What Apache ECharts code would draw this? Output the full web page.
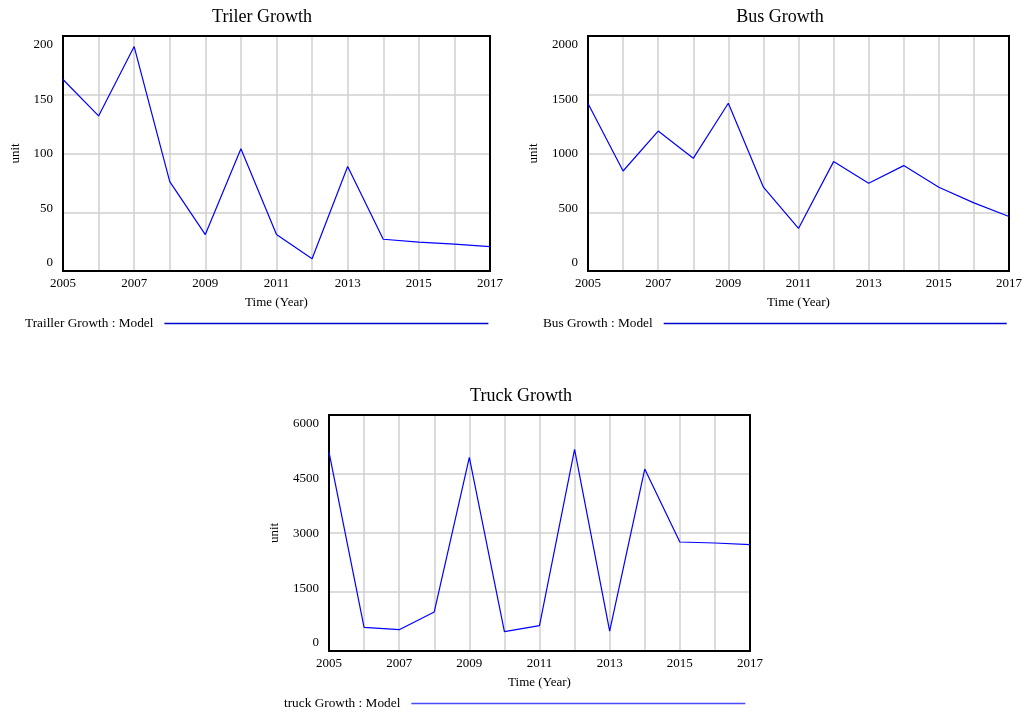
<!DOCTYPE html>
<html>
<head>
<meta charset="utf-8">
<script src="https://cdn.jsdelivr.net/npm/echarts@6/dist/echarts.min.js"></script>
<style>
  html, body { margin: 0; padding: 0; background: #fff; }
  #main { width: 1026px; height: 715px; }
</style>
</head>
<body>
<div id="main"></div>
<script>
const years = [2005, 2006, 2007, 2008, 2009, 2010, 2011, 2012, 2013, 2014, 2015, 2016, 2017]
const trailerGrowth = [163, 132, 191, 76, 31, 104, 31, 10.5, 89, 27, 24.6, 22.9, 20.7]
const busGrowth = [1426, 851, 1191, 959, 1428, 713, 362, 931, 747, 897, 713, 580, 464]
const truckGrowth = [5059, 602, 542, 992, 4924, 492, 644, 5127, 508, 4627, 2771, 2746, 2703]
const yTicksTrailer = [0, 50, 100, 150, 200]
const yTicksBus = [0, 500, 1000, 1500, 2000]
const yTicksTruck = [0, 1500, 3000, 4500, 6000]

const FONT = 'Liberation Serif'
const BLUE = '#0000ff'
const GRID_GRAY = '#cfcfcf'

// panels: title, legend name, data, y ticks, grid box
const panels = [
  { title: 'Triler Growth', name: 'Trailler Growth : Model', values: trailerGrowth, ticks: yTicksTrailer,
    grid: { left: 63, top: 36, width: 427, height: 235 }, titleX: 257, titleY: 3, unitGap: 41,
    legend: { left: 25, top: 317, width: 324, color: '#0000cc' } },
  { title: 'Bus Growth', name: 'Bus Growth : Model', values: busGrowth, ticks: yTicksBus,
    grid: { left: 588, top: 36, width: 421, height: 235 }, titleX: 775, titleY: 3, unitGap: 48,
    legend: { left: 543, top: 317, width: 343, color: '#0000cc' } },
  { title: 'Truck Growth', name: 'truck Growth : Model', values: truckGrowth, ticks: yTicksTruck,
    grid: { left: 329, top: 415, width: 421, height: 236 }, titleX: 516, titleY: 382, unitGap: 48,
    legend: { left: 284, top: 697, width: 334, color: '#4a4aff' } }
]

const option = {
  animation: false,
  textStyle: { fontFamily: FONT, color: '#000' },
  title: [], grid: [], xAxis: [], yAxis: [], series: [], legend: []
}

panels.forEach((p, i) => {
  const ymax = p.ticks[p.ticks.length - 1]
  const h = p.grid.height
  // the label axis spreads the tick labels a bit inside the frame, like the original tool
  const span = ymax * h / (h - 16.5)
  const lo = -8 * span / h

  option.title.push({
    text: p.title, left: p.titleX, top: p.titleY, textAlign: 'center',
    textStyle: { fontFamily: FONT, fontSize: 18, fontWeight: 'normal', color: '#000' }
  })
  option.grid.push(Object.assign({ show: true, borderColor: '#000', borderWidth: 2, backgroundColor: 'transparent', z: 3 }, p.grid))
  option.xAxis.push({
    type: 'value', gridIndex: i, min: 2005, max: 2017, interval: 1,
    name: 'Time (Year)', nameLocation: 'middle', nameGap: 25,
    nameTextStyle: { fontFamily: FONT, fontSize: 13, color: '#000' },
    axisLine: { show: false }, axisTick: { show: false },
    axisLabel: { margin: 6, fontFamily: FONT, fontSize: 13, color: '#000',
      formatter: v => (v % 2 === 1 ? String(v) : '') },
    splitLine: { show: true, showMinLine: false, showMaxLine: false, lineStyle: { color: GRID_GRAY, width: 1.5 } }
  })
  option.yAxis.push({
    type: 'value', gridIndex: i, position: 'left', min: 0, max: ymax, interval: ymax / 4,
    name: 'unit', nameLocation: 'middle', nameGap: p.unitGap,
    nameTextStyle: { fontFamily: FONT, fontSize: 13, color: '#000' },
    axisLine: { show: false }, axisTick: { show: false }, axisLabel: { show: false },
    splitLine: { show: true, showMinLine: false, showMaxLine: false, lineStyle: { color: GRID_GRAY, width: 1.5 } }
  })
  option.yAxis.push({
    type: 'value', gridIndex: i, position: 'left', offset: 0, min: lo, max: lo + span,
    axisLine: { show: false }, axisTick: { show: false }, splitLine: { show: false },
    axisLabel: { customValues: p.ticks, margin: 10, fontFamily: FONT, fontSize: 13, color: '#000',
      formatter: v => String(v) }
  })
  option.series.push({
    name: p.name, type: 'line', xAxisIndex: i, yAxisIndex: i * 2,
    data: years.map((y, k) => [y, p.values[k]]),
    showSymbol: false, silent: true, z: 4,
    lineStyle: { color: BLUE, width: 1.2 }, itemStyle: { color: BLUE }
  })
  option.legend.push({
    data: [p.name], left: p.legend.left, top: p.legend.top, align: 'right',
    icon: 'rect', itemWidth: p.legend.width, itemHeight: 1.5, padding: 0,
    itemStyle: { color: p.legend.color },
    textStyle: { fontFamily: FONT, fontSize: 13.3, color: '#000', padding: [0, 6, 0, 0] },
    selectedMode: false
  })
})

const chart = echarts.init(document.getElementById('main'))
chart.setOption(option)
</script>
</body>
</html>
